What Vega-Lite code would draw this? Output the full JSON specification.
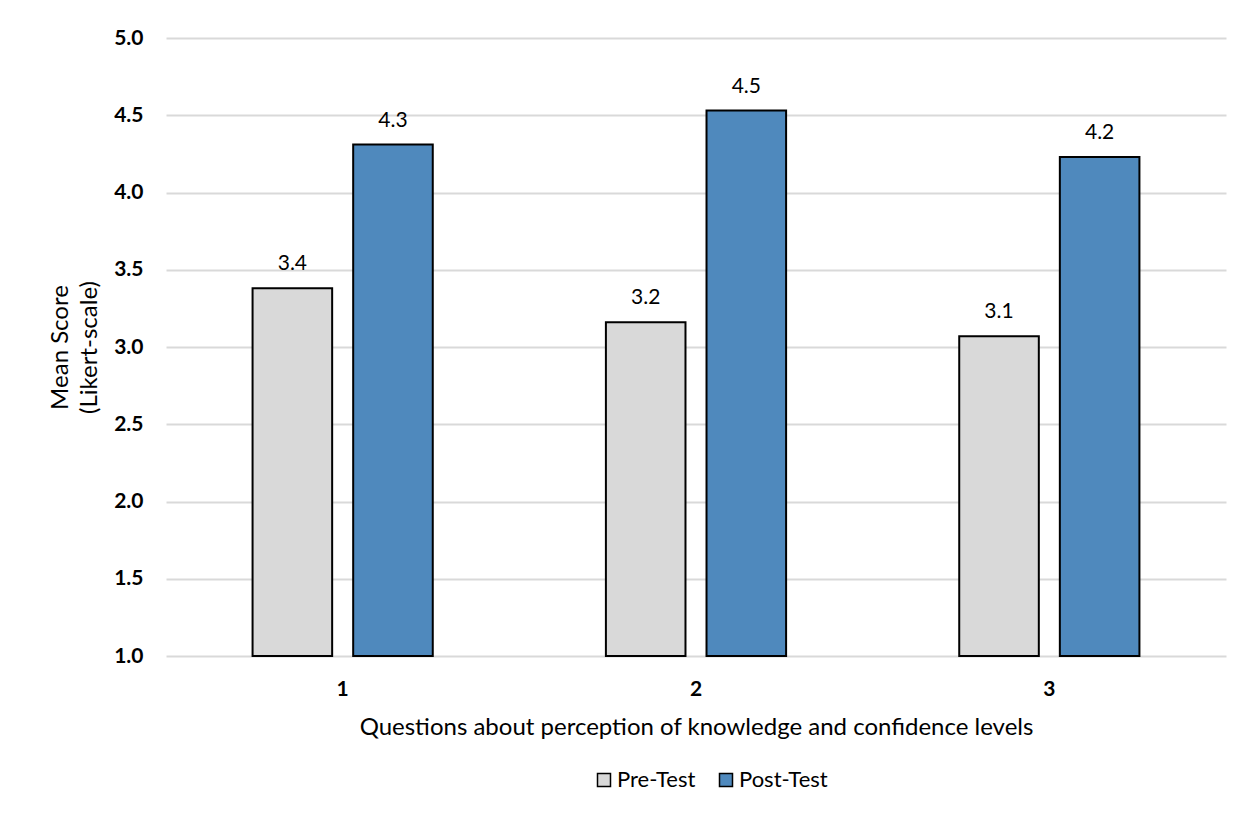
{
  "$schema": "https://vega.github.io/schema/vega-lite/v6.json",
  "width": 1060,
  "height": 618,
  "autosize": {"type": "none"},
  "padding": {"left": 166, "top": 38, "right": 27, "bottom": 177},
  "background": "white",
  "config": {
    "font": "Lato",
    "view": {"stroke": null},
    "axis": {"labelFont": "Lato", "titleFont": "Lato", "labelColor": "#000000", "titleColor": "#000000"}
  },
  "data": {
    "values": [
      {"question": "1", "test": "Pre-Test", "score": 3.38},
      {"question": "1", "test": "Post-Test", "score": 4.31},
      {"question": "2", "test": "Pre-Test", "score": 3.16},
      {"question": "2", "test": "Post-Test", "score": 4.53},
      {"question": "3", "test": "Pre-Test", "score": 3.07},
      {"question": "3", "test": "Post-Test", "score": 4.23}
    ]
  },
  "encoding": {
    "x": {
      "field": "question",
      "type": "nominal",
      "scale": {"paddingInner": 0.49, "paddingOuter": 0.245},
      "axis": {
        "title": "Questions about perception of knowledge and confidence levels",
        "titleFontSize": 24,
        "titleFontWeight": "normal",
        "titleBaseline": "alphabetic",
        "titleY": 78,
        "labelAngle": 0,
        "labelFontSize": 21,
        "labelFontWeight": "bold",
        "labelBaseline": "alphabetic",
        "labelPadding": 39,
        "ticks": false,
        "tickSize": 0,
        "domain": false,
        "grid": false
      }
    },
    "xOffset": {
      "field": "test",
      "type": "nominal",
      "sort": ["Pre-Test", "Post-Test"],
      "scale": {"paddingInner": 0.209, "paddingOuter": 0}
    }
  },
  "layer": [
    {
      "mark": {"type": "bar", "stroke": "#000000", "strokeWidth": 2},
      "encoding": {
        "y": {
          "field": "score",
          "type": "quantitative",
          "scale": {"domain": [1, 5], "zero": false, "nice": false},
          "axis": {
            "title": ["Mean Score", "(Likert-scale)"],
            "titleFontSize": 24,
            "titleFontWeight": "normal",
            "titleAngle": -90,
            "titleAlign": "center",
            "titleBaseline": "alphabetic",
            "titleLineHeight": 29,
            "titleX": -99,
            "titleY": 309,
            "values": [1, 1.5, 2, 2.5, 3, 3.5, 4, 4.5, 5],
            "format": ".1f",
            "labelFontSize": 21,
            "labelFontWeight": "bold",
            "labelPadding": 23,
            "ticks": false,
            "tickSize": 0,
            "domain": false,
            "grid": true,
            "gridColor": "#D9D9D9",
            "gridWidth": 2
          }
        },
        "y2": {"datum": 1},
        "color": {
          "field": "test",
          "type": "nominal",
          "sort": ["Pre-Test", "Post-Test"],
          "scale": {"domain": ["Pre-Test", "Post-Test"], "range": ["#D9D9D9", "#4F89BD"]},
          "legend": {
            "title": null,
            "orient": "none",
            "direction": "horizontal",
            "legendX": 427,
            "legendY": 731,
            "symbolType": "square",
            "symbolSize": 169,
            "symbolStrokeColor": "#000000",
            "symbolStrokeWidth": 1.5,
            "labelFontSize": 22,
            "labelFont": "Lato",
            "labelColor": "#000000",
            "labelOffset": 2,
            "columnPadding": 19
          }
        }
      }
    },
    {
      "mark": {"type": "text", "baseline": "alphabetic", "dy": -18, "fontSize": 21, "color": "#000000"},
      "encoding": {
        "y": {"field": "score", "type": "quantitative"},
        "text": {"field": "score", "type": "quantitative", "format": ".1f"}
      }
    }
  ]
}
